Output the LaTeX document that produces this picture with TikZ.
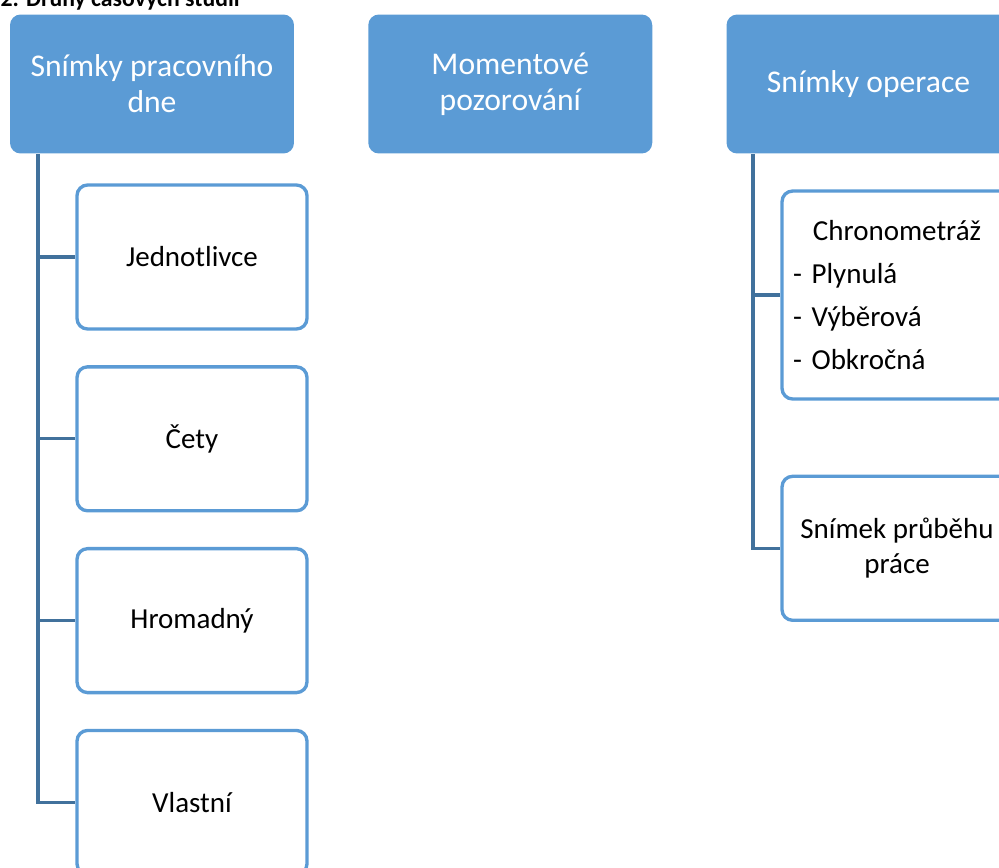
\documentclass[tikz,border=0pt]{standalone}
\usepackage{fontspec}
\setmainfont{Carlito}
\usetikzlibrary{positioning}
\definecolor{cfill}{HTML}{5B9BD5}
\definecolor{cline}{HTML}{41719C}
\tikzset{
  every picture/.style={line width=1.9pt},
  head/.style={fill=cfill, rounded corners=6pt, text=white, align=center, inner sep=0pt,
    minimum width=5.68cm, minimum height=2.78cm, font=\fontsize{18}{20.5}\selectfont},
  leaf/.style={draw=cfill, fill=white, rounded corners=6pt, align=center, inner sep=0pt,
    minimum width=4.6cm, minimum height=2.88cm, font=\fontsize{16.5}{20}\selectfont},
  link/.style={draw=cline, line width=1.9pt},
  title/.style={font=\bfseries\fontsize{13.5}{16}\selectfont, anchor=base west, inner sep=0pt},
}

\begin{document}
\begin{tikzpicture}[x=0.02cm, y=-0.02cm]
  \useasboundingbox (0,0) rectangle (999,867);
  \clip (0,0) rectangle (999,867);
  \node[title] (ttl) at (-1,6) {2. Druhy časových studií};
  % top row
  \node[head] (h1) at (152,84) {Snímky pracovního\\dne};
  \node[head, right=1.42cm of h1] (h2) {Momentové\\pozorování};
  \node[head, right=1.42cm of h2] (h3) {Snímky operace};
  % left column
  \node[leaf] (jed) at (192,257) {Jednotlivce};
  \node[leaf, below=0.69cm of jed] (cet) {Čety};
  \node[leaf, below=0.69cm of cet] (hro) {Hromadný};
  \node[leaf, below=0.69cm of hro] (vla) {Vlastní};
  \coordinate (s1) at (38,154);
  \draw[link] (s1) |- (vla.west);
  \foreach \n in {jed,cet,hro}
    \draw[link] (s1 |- \n.west) -- (\n.west);
  % right column
  \node[leaf, minimum height=4.16cm, text width=4.16cm, align=left,
    font=\fontsize{16.5}{24.4}\selectfont] (chr) at (897,295)
    {\makebox[\linewidth]{Chronometráž}\\- Plynulá\\- Výběrová\\- Obkročná};
  \node[leaf, below=1.48cm of chr] (spr) {Snímek průběhu\\práce};
  \coordinate (s3) at (753,154);
  \draw[link] (s3) |- (spr.west);
  \draw[link] (s3 |- chr.west) -- (chr.west);
\end{tikzpicture}
\end{document}
